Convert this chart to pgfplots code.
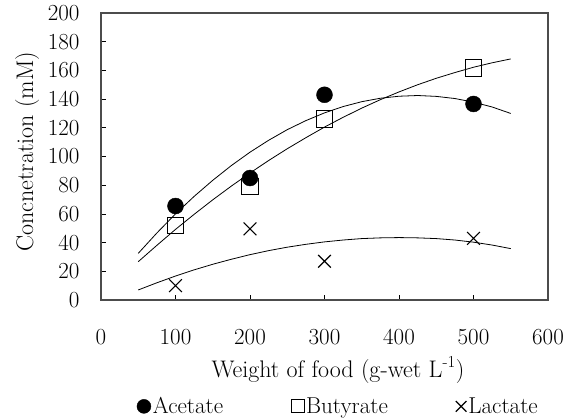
\documentclass[border=0pt]{standalone}
\usepackage{fontspec}
\usepackage{pgfplots}
\pgfplotsset{compat=1.18}
\newcommand{\tickf}{\fontsize{23}{27}\selectfont}
\newcommand{\labf}{\fontsize{24}{28}\selectfont}
\begin{document}
\begin{tikzpicture}
\begin{axis}[
  name=ax,
  scale only axis, width=447pt, height=287pt,
  xmin=0, xmax=600, ymin=0, ymax=200,
  xtick={0,100,...,600}, ytick={0,20,...,200},
  /pgf/number format/assume math mode=true,
  tick align=inside, xtick pos=bottom, ytick pos=left,
  major tick length=5pt,
  tick label style={font=\tickf},
  axis line style={line width=1.6pt, black!70},
  tick style={black, line width=0.8pt},
  xticklabel style={yshift=-26pt},
  yticklabel style={xshift=-18pt},
  xlabel={Weight of food (g-wet L\textsuperscript{-1})},
  ylabel={\addfontfeature{LetterSpace=5}Concnetration (mM)},
  xlabel style={font=\labf, at={(axis description cs:0.53,0)}, anchor=base, yshift=-77pt},
  ylabel style={font=\labf, at={(axis description cs:-0.152,0.517)}, anchor=base},
  legend style={at={(axis description cs:0.531,-0.325)}, anchor=north, draw=none, fill=none,
    legend columns=3, font=\tickf,
    /tikz/every even column/.append style={column sep=66pt}},
  legend image code/.code={\draw[#1] plot coordinates {(0.25cm,0cm)};},
]
% fitted curves
\addplot[black, line width=0.8pt, forget plot] coordinates {
(50,32.5)(75,46.7)(100,60.0)(125,72.2)(150,83.4)(175,93.7)(200,103.0)(225,111.3)
(250,118.7)(275,125.0)(300,130.4)(325,134.8)(350,138.2)(375,140.6)(400,142.0)
(425,142.5)(450,141.9)(475,140.4)(500,137.9)(525,134.5)(550,130.0)};
\addplot[black, line width=0.8pt, forget plot] coordinates {
(50,26.7)(75,38.1)(100,49.2)(125,59.7)(150,69.8)(175,79.4)(200,88.5)(225,97.2)
(250,105.4)(275,113.1)(300,120.5)(325,127.3)(350,133.7)(375,139.6)(400,145.0)
(425,150.0)(450,154.5)(475,158.5)(500,162.2)(525,165.3)(550,168.0)};
\addplot[black, line width=0.8pt, forget plot] coordinates {
(50,7.0)(75,12.0)(100,16.7)(125,21.0)(150,24.9)(175,28.4)(200,31.6)(225,34.4)
(250,36.8)(275,38.8)(300,40.5)(325,41.8)(350,42.8)(375,43.3)(400,43.5)
(425,43.3)(450,42.8)(475,41.8)(500,40.3)(525,38.3)(550,35.8)};
% data
\addplot[only marks, mark=*, mark size=8pt, black,
  legend image post style={mark size=7pt}] coordinates {
(100,65.5)(200,85)(300,143)(500,136.6)};
\addlegendentry{Acetate}
\addplot[only marks, mark=square, mark size=8.3pt, black, line width=1.1pt,
  legend image post style={mark size=6.5pt}] coordinates {
(100,52)(200,79)(300,126)(500,161.5)};
\addlegendentry{Butyrate}
\addplot[only marks, mark=x, mark size=9pt, black, line width=1.1pt,
  legend image post style={mark size=7.5pt}] coordinates {
(100,10)(200,49.5)(300,27)(500,43)};
\addlegendentry{Lactate}
\end{axis}
\pgfresetboundingbox
\path ([shift={(-101pt,-118pt)}]ax.south west) rectangle ([shift={(33pt,13pt)}]ax.north east);
\end{tikzpicture}
\end{document}
